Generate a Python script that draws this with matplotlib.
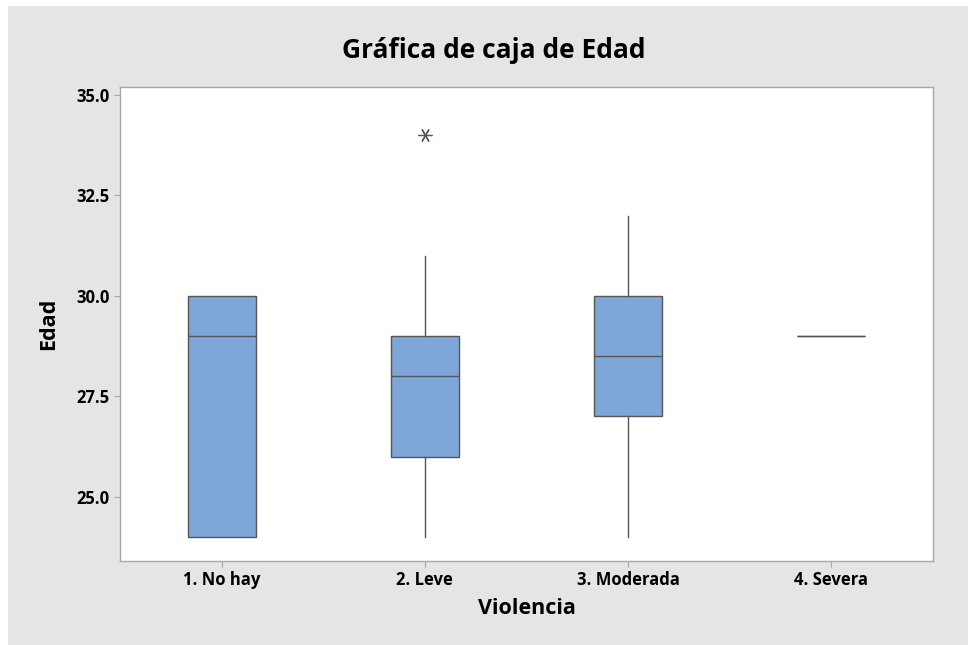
import matplotlib
matplotlib.use("Agg")
import matplotlib.pyplot as plt
from matplotlib.patches import Rectangle

plt.rcParams['font.family'] = ['Open Sans', 'DejaVu Sans']

# Edad by Violencia group
categories = ['1. No hay', '2. Leve', '3. Moderada', '4. Severa']
whisker_low = [24, 24, 24, 29]
q1 = [24, 26, 27, 29]
median = [29, 28, 28.5, 29]
q3 = [30, 29, 30, 29]
whisker_high = [30, 31, 32, 29]
outliers = [[], [34], [], []]

stats = []
for i, cat in enumerate(categories):
    stats.append({
        'label': cat,
        'whislo': whisker_low[i],
        'q1': q1[i],
        'med': median[i],
        'q3': q3[i],
        'whishi': whisker_high[i],
        'fliers': outliers[i],
    })

fig = plt.figure(figsize=(9.68, 6.45), dpi=100)
fig.patch.set_facecolor('white')
fig.patches.append(Rectangle((8 / 968, 0), 1, 1 - 6 / 645, transform=fig.transFigure,
                             facecolor='#E5E5E5', edgecolor='none', zorder=-10))

ax = fig.add_axes([120 / 968, 1 - 561 / 645, 813 / 968, 474 / 645])
ax.set_facecolor('white')

line_col = '#555555'
ax.bxp(stats, positions=[1, 2, 3, 4], widths=0.335, patch_artist=True,
       showcaps=False,
       boxprops=dict(facecolor='#7EA6D9', edgecolor=line_col, linewidth=1.0),
       medianprops=dict(color=line_col, linewidth=1.0),
       whiskerprops=dict(color=line_col, linewidth=1.0),
       flierprops=dict(marker=(6, 2, 30), markersize=10, markeredgecolor=line_col,
                       markeredgewidth=0.9, linestyle='none'))

ax.set_xlim(0.5, 4.5)
ax.set_ylim(23.4, 35.2)
ax.set_yticks([25.0, 27.5, 30.0, 32.5, 35.0])
ax.set_yticklabels(['25.0', '27.5', '30.0', '32.5', '35.0'])

for s in ax.spines.values():
    s.set_color('#A8A8A8')
    s.set_linewidth(1.0)
ax.tick_params(axis='both', colors='#A8A8A8', length=4, width=0.8, labelcolor='black',
               labelsize=12)
for lbl in ax.get_xticklabels() + ax.get_yticklabels():
    lbl.set_fontweight('bold')

ax.set_xlabel('Violencia', fontsize=15.5, fontweight='bold', labelpad=6)
ax.set_ylabel('Edad', fontsize=15.5, fontweight='bold', labelpad=12)
fig.text(494 / 968, 1 - 51 / 645, 'Gráfica de caja de Edad', ha='center', va='center',
         fontsize=19, fontweight='bold')

fig.savefig('out.png', dpi=100, facecolor=fig.get_facecolor())
